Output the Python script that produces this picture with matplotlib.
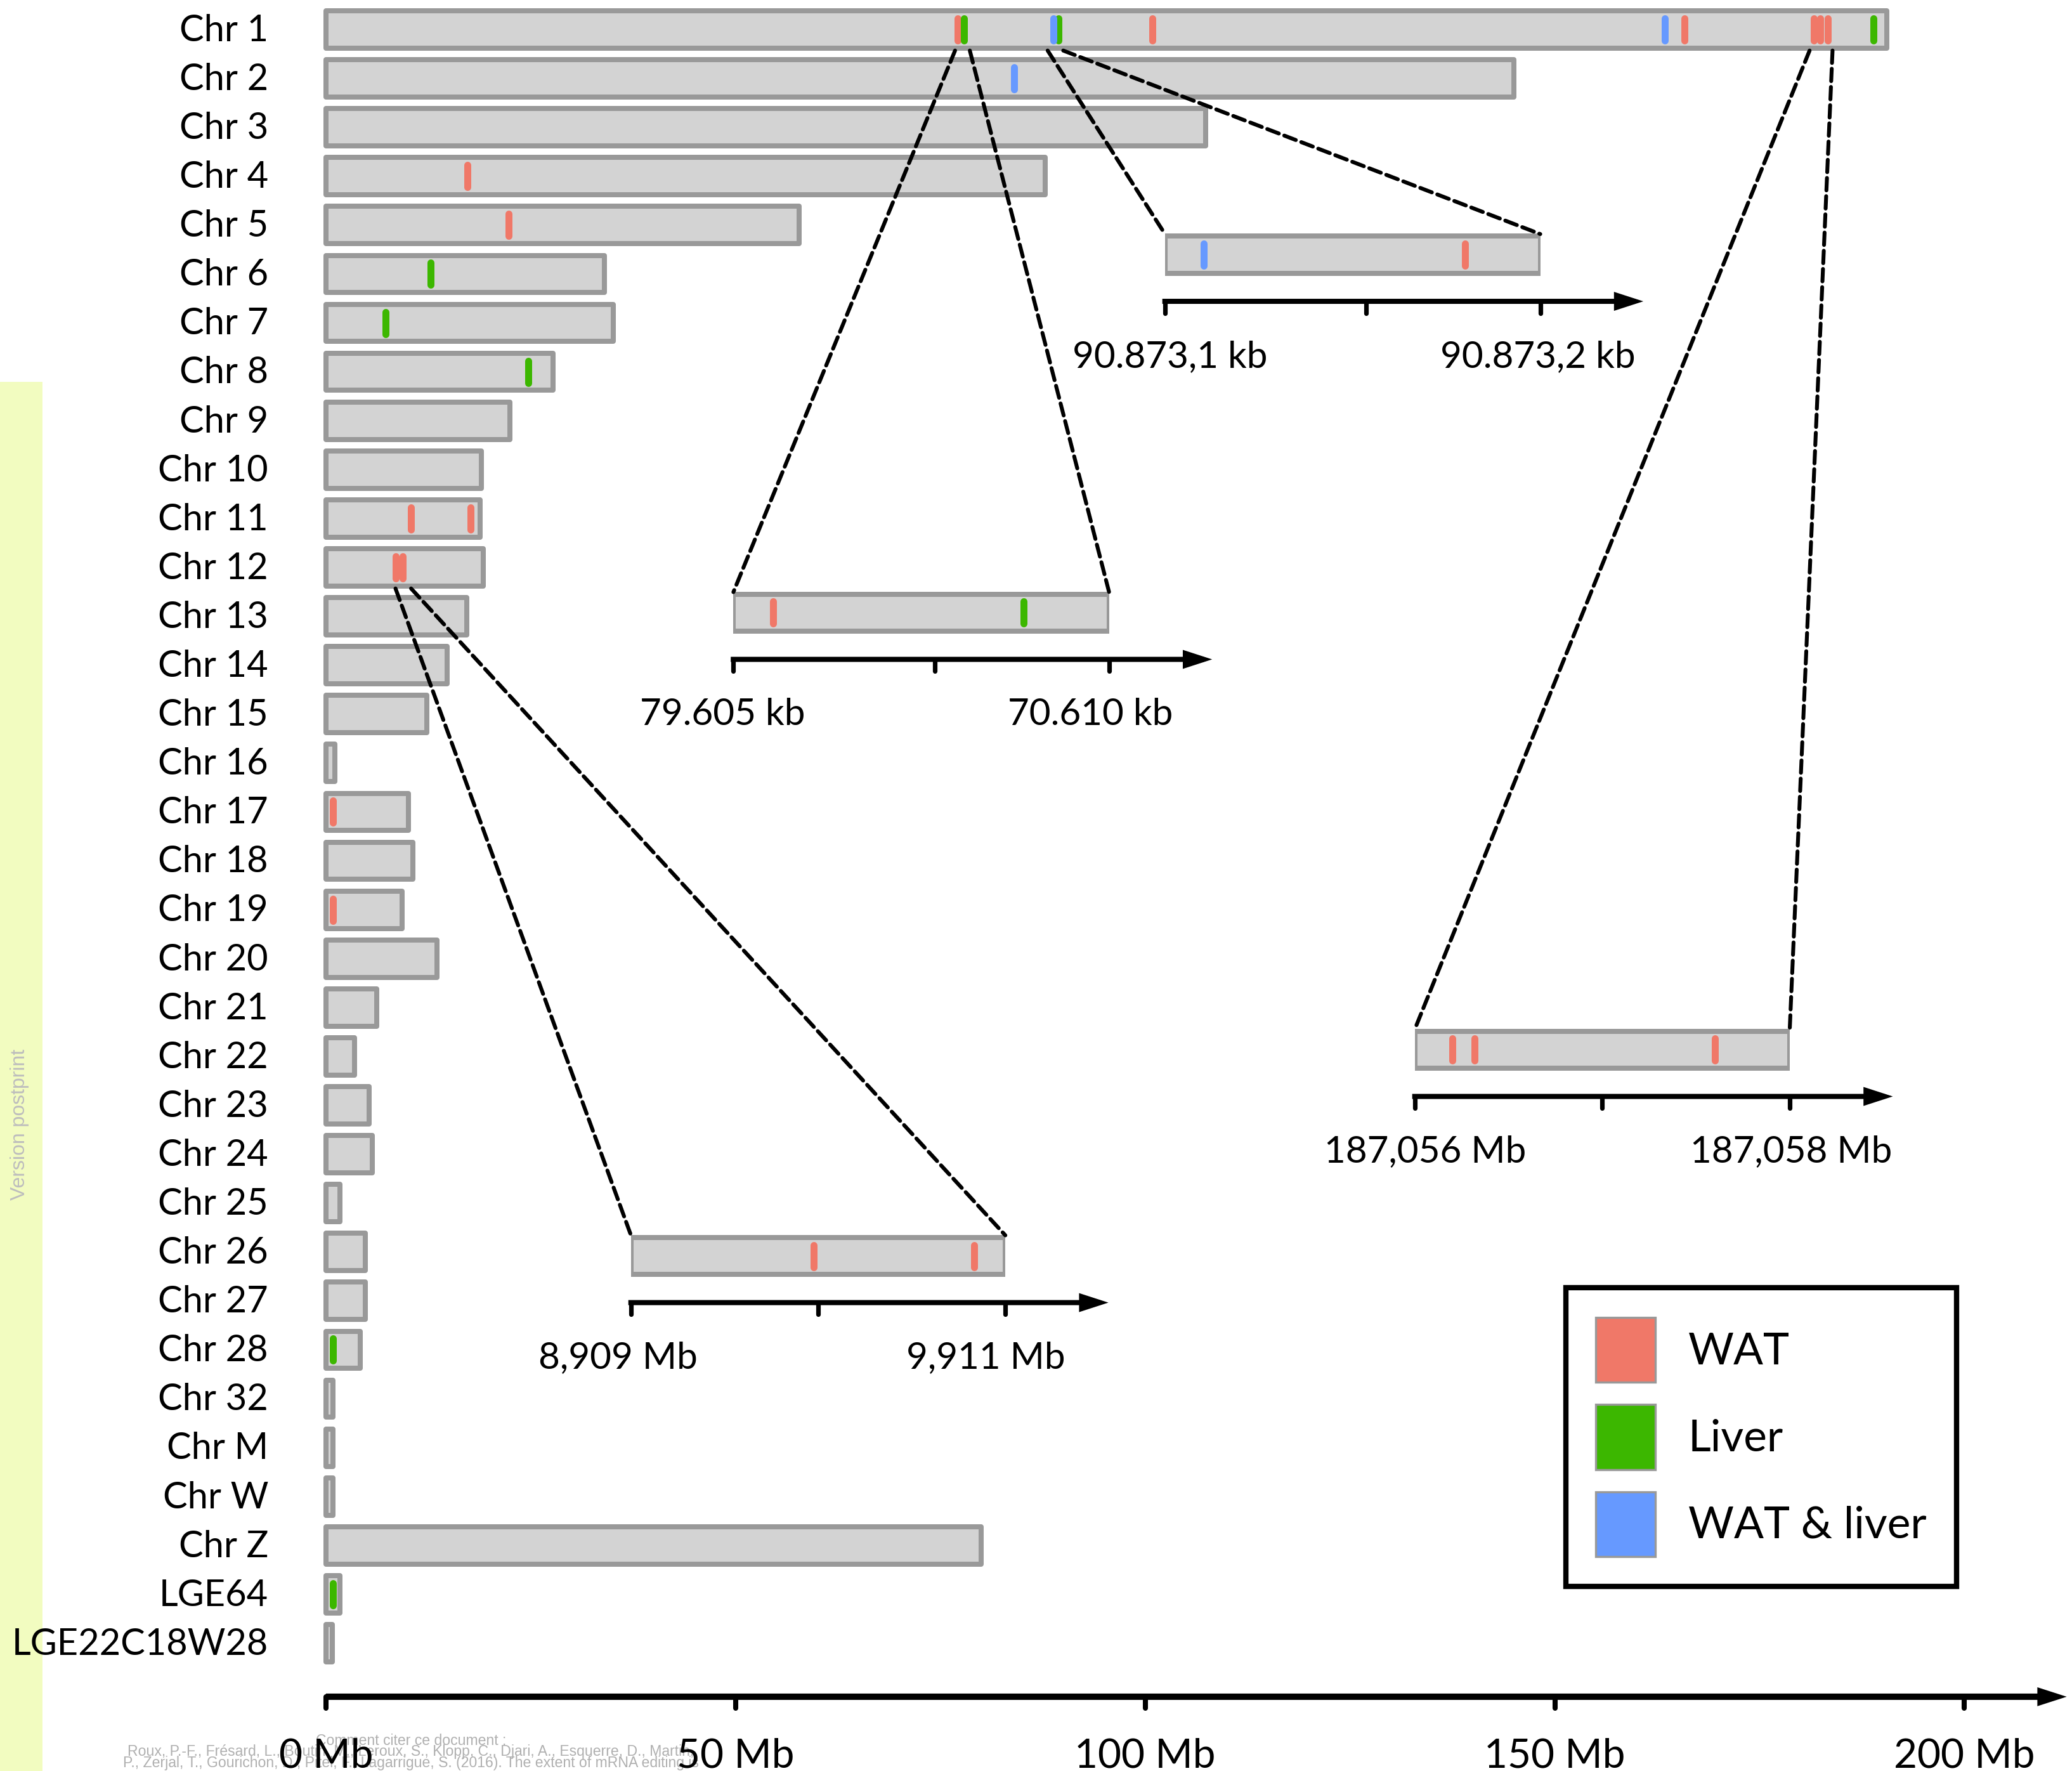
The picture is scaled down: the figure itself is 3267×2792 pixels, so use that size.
import matplotlib
matplotlib.use("Agg")
import matplotlib.pyplot as plt
from matplotlib.patches import Rectangle, ConnectionPatch, FancyArrowPatch, Patch, ArrowStyle

plt.rcParams['font.family'] = ['Lato', 'DejaVu Sans']

# ---------------- data ----------------
chromosomes = ["Chr 1", "Chr 2", "Chr 3", "Chr 4", "Chr 5", "Chr 6", "Chr 7", "Chr 8",
               "Chr 9", "Chr 10", "Chr 11", "Chr 12", "Chr 13", "Chr 14", "Chr 15",
               "Chr 16", "Chr 17", "Chr 18", "Chr 19", "Chr 20", "Chr 21", "Chr 22",
               "Chr 23", "Chr 24", "Chr 25", "Chr 26", "Chr 27", "Chr 28", "Chr 32",
               "Chr M", "Chr W", "Chr Z", "LGE64", "LGE22C18W28"]
chrom_length_mb = [190.5, 145.0, 107.4, 87.8, 57.8, 34.0, 35.1, 27.7,
                   22.5, 19.0, 18.8, 19.2, 17.2, 14.8, 12.3,
                   1.1, 10.1, 10.6, 9.3, 13.6, 6.2, 3.5,
                   5.3, 5.7, 1.7, 4.8, 4.8, 4.2, 0.9,
                   0.9, 0.9, 80.0, 1.7, 0.8]

wat_chrom = ["Chr 1", "Chr 1", "Chr 1", "Chr 1", "Chr 1", "Chr 1", "Chr 4", "Chr 5",
             "Chr 11", "Chr 11", "Chr 12", "Chr 12", "Chr 17", "Chr 19"]
wat_pos_mb = [77.1, 100.9, 165.8, 181.6, 182.4, 183.3, 17.3, 22.3,
              10.4, 17.7, 8.5, 9.4, 0.9, 0.9]
liver_chrom = ["Chr 1", "Chr 1", "Chr 1", "Chr 6", "Chr 7", "Chr 8", "Chr 28", "LGE64"]
liver_pos_mb = [77.9, 89.4, 188.9, 12.8, 7.3, 24.7, 0.9, 0.9]
both_chrom = ["Chr 1", "Chr 1", "Chr 2"]
both_pos_mb = [88.8, 163.4, 84.0]

x_ticks_mb = [0, 50, 100, 150, 200]
x_tick_labels = ["0 Mb", "50 Mb", "100 Mb", "150 Mb", "200 Mb"]

legend_labels = ["WAT", "Liver", "WAT & liver"]
legend_colors = ["#F07868", "#3CB700", "#6699FF"]

# zoomed windows
zoom_chrom = ["Chr 1", "Chr 1", "Chr 1", "Chr 12"]
zoom_source_mb = [(76.8, 78.6), (88.1, 90.0), (181.1, 183.9), (8.5, 10.4)]
zoom_window = [(70605.0, 70610.0), (90873.10, 90873.20), (187.056, 187.058), (9.909, 9.911)]
zoom_mid_tick = [70607.68, 90873.1536, 187.057, 9.910]
zoom_tick_labels = [("79.605 kb", "70.610 kb"), ("90.873,1 kb", "90.873,2 kb"),
                    ("187,056 Mb", "187,058 Mb"), ("8,909 Mb", "9,911 Mb")]
zoom_wat = [[70605.53], [90873.1799], [187.05620, 187.05632, 187.05760], [9.909975, 9.910833]]
zoom_liver = [[70608.86], [], [], []]
zoom_both = [[], [90873.1104], [], []]

# ---------------- layout (reference pixel frame 1568 x 1340) ----------------
W_D, H_D = 1568.0, 1340.0
X0_D, PX_PER_MB = 246.6, 6.2
ROW0_D, ROW_D = 22.3, 37.0
BAR_H_D = 28.2
MARK_HALF_D = 8.4
zoom_box_D = [(555.0, 839.3, 463.6), (881.6, 1165.6, 192.7),
              (1070.7, 1354.4, 794.3), (477.5, 760.8, 950.3)]
zoom_label_dx_D = [(-8, -14), (4, -2), (8, 1), (-10, -15)]

GREY_EDGE = "#999999"
GREY_FILL = "#D3D3D3"
BAR_LW = 2.88
MARK_LW = 3.96


def d2mb(xd):
    return (xd - X0_D) / PX_PER_MB


def d2row(yd):
    return (yd - ROW0_D) / ROW_D


fig = plt.figure(figsize=(3267 / 200, 2792 / 200), dpi=200)
fig.patch.set_facecolor("white")

# watermark strip and citation
fig.add_artist(Rectangle((0, 0), 32 / W_D, 1 - 289 / H_D, transform=fig.transFigure,
                         facecolor="#F2FCC0", edgecolor="none", zorder=-5))
fig.text(15 / W_D, 1 - 851 / H_D, "Version postprint", rotation=90, ha="center",
         va="center", color="#BDBDBD", fontsize=11.5,
         family=["Liberation Sans", "DejaVu Sans"], zorder=-4)
cite_lines = ["Comment citer ce document :",
              "Roux, P.-F., Frésard, L., Boutin, M., Leroux, S., Klopp, C., Djari, A., Esquerre, D., Martin,",
              "P., Zerjal, T., Gourichon, D., Pitel, F., Lagarrigue, S. (2016). The extent of mRNA editing is"]
for k, line in enumerate(cite_lines):
    fig.text(311 / W_D, 1 - (1320.3 + 8.4 * k) / H_D, line, ha="center", va="baseline",
             color="#B0B0B0", fontsize=8.3,
             family=["Liberation Sans", "DejaVu Sans"], zorder=-4)

ax = fig.add_axes([0, 0, 1, 1])
ax.set_xlim(d2mb(0), d2mb(W_D))
ax.set_ylim(d2row(H_D), d2row(0))
ax.axis("off")
ax.patch.set_visible(False)

rows = list(range(len(chromosomes)))
row_of = {c: i for i, c in enumerate(chromosomes)}
bar_h = BAR_H_D / ROW_D
bars = ax.barh(rows, chrom_length_mb, height=bar_h, left=0, color=GREY_FILL,
               edgecolor=GREY_EDGE, linewidth=BAR_LW, zorder=2)
for b in bars:
    b.set_joinstyle("round")

label_x = d2mb(203)
for i, name in enumerate(chromosomes):
    ax.text(label_x, i + 0.238, name, ha="right", va="baseline", fontsize=20.8, color="black")

mh = MARK_HALF_D / ROW_D
for chroms, pos, col in [(wat_chrom, wat_pos_mb, legend_colors[0]),
                         (liver_chrom, liver_pos_mb, legend_colors[1]),
                         (both_chrom, both_pos_mb, legend_colors[2])]:
    r = [row_of[c] for c in chroms]
    lc = ax.vlines(pos, [v - mh for v in r], [v + mh for v in r], colors=col,
                   linewidth=MARK_LW, zorder=3)
    lc.set_capstyle("round")

# main scale axis
y_axis = d2row(1283.8)
arr = FancyArrowPatch((0, y_axis), (d2mb(1564), y_axis),
                      arrowstyle=ArrowStyle("-|>", head_length=9.0, head_width=2.9),
                      mutation_scale=1, linewidth=3.6, color="black", shrinkA=0, shrinkB=0,
                      joinstyle="miter", capstyle="butt", zorder=3)
ax.add_patch(arr)
tk = ax.vlines(x_ticks_mb, y_axis, y_axis + 8.7 / ROW_D, colors="black", linewidth=2.9, zorder=3)
tk.set_capstyle("round")
for xv, lab in zip(x_ticks_mb, x_tick_labels):
    ax.text(xv, d2row(1337.5), lab, ha="center", va="baseline", fontsize=23, color="black")

# zoom insets
for i in range(len(zoom_window)):
    tL, tR, cy = zoom_box_D[i]
    w0, w1 = zoom_window[i]
    ins = fig.add_axes([tL / W_D, 1 - (cy + 100) / H_D, (tR - tL) / W_D, 140 / H_D])
    ins.set_xlim(w0, w1)
    ins.set_ylim(100, -40)
    ins.axis("off")
    ins.patch.set_visible(False)
    per_d = (w1 - w0) / (tR - tL)
    rect = Rectangle((w0, -BAR_H_D / 2), w1 - w0, BAR_H_D, facecolor=GREY_FILL,
                     edgecolor=GREY_EDGE, linewidth=BAR_LW, joinstyle="round", zorder=2)
    ins.add_patch(rect)
    for pos, col in [(zoom_wat[i], legend_colors[0]), (zoom_liver[i], legend_colors[1]),
                     (zoom_both[i], legend_colors[2])]:
        if pos:
            lc = ins.vlines(pos, -MARK_HALF_D, MARK_HALF_D, colors=col, linewidth=MARK_LW, zorder=3)
            lc.set_capstyle("round")
    ya = 35.3
    a = FancyArrowPatch((w0 - 2 * per_d, ya), (w1 + 78 * per_d, ya),
                        arrowstyle=ArrowStyle("-|>", head_length=10.5, head_width=3.4),
                        mutation_scale=1, linewidth=2.9, color="black", shrinkA=0, shrinkB=0,
                        joinstyle="miter", capstyle="butt", zorder=3, clip_on=False)
    ins.add_patch(a)
    t = ins.vlines([w0, zoom_mid_tick[i], w1], ya, ya + 9.0, colors="black", linewidth=2.6,
                   zorder=3)
    t.set_capstyle("round")
    t.set_clip_on(False)
    (lab0, lab1), (dx0, dx1) = zoom_tick_labels[i], zoom_label_dx_D[i]
    ins.text(w0 + dx0 * per_d, 85, lab0, ha="center", va="baseline", fontsize=21, clip_on=False)
    ins.text(w1 + dx1 * per_d, 85, lab1, ha="center", va="baseline", fontsize=21, clip_on=False)

    # dashed connectors
    src_row = row_of[zoom_chrom[i]] + bar_h / 2 + 0.05
    for src, dst in zip(zoom_source_mb[i], (w0, w1)):
        cp = ConnectionPatch(xyA=(src, src_row), coordsA=ax.transData,
                             xyB=(dst, -BAR_H_D / 2 - 1.5), coordsB=ins.transData,
                             color="black", linewidth=2.2, linestyle=(0, (3.2, 1.5)),
                             zorder=4)
        fig.add_artist(cp)

# legend
handles = [Patch(facecolor=c, edgecolor=GREY_EDGE, linewidth=1.2, label=l)
           for l, c in zip(legend_labels, legend_colors)]
leg = fig.legend(handles=handles, loc="center",
                 bbox_to_anchor=(1332.8 / W_D, 1 - 1087.3 / H_D), bbox_transform=fig.transFigure,
                 borderaxespad=0, fontsize=25, handlelength=1.342, handleheight=1.886,
                 labelspacing=0.504, handletextpad=0.75, borderpad=0.68, frameon=True,
                 fancybox=False, edgecolor="black", framealpha=1)
leg.get_frame().set_linewidth(3.0)
leg.set_zorder(6)

fig.savefig("out.png", dpi=200, facecolor="white")
